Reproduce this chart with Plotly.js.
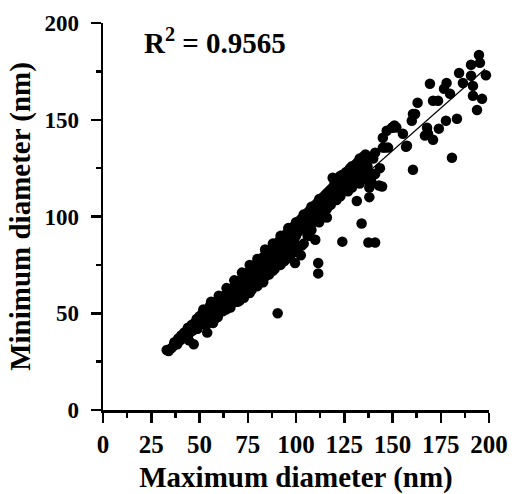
<!DOCTYPE html>
<html>
<head>
<meta charset="utf-8">
<script src="https://cdn.plot.ly/plotly-3.0.1.min.js"></script>
<style>html,body{margin:0;padding:0;background:#fff;}#chart{width:512px;height:494px;}</style>
</head>
<body>
<div id="chart"></div>
<script>
// Maximum diameter (nm) / Minimum diameter (nm), in groups along the band
const maxA = [33,34,35.5,36.5,37,38.5,39,40,40.5,41.5,42,43,43.5,44,45,45.5,46,47,46.5,44.5];
const minA = [31,30.5,32,33,35,34,37,36,38.5,37,40,38,41,42.5,40,43,44,34,41,36];

const maxB = [47.5,48,48.5,49,49.5,50,50.5,51,51.5,52,52,53,53,53.5,54,54.5,55,55,55.5,56,56.5,57,57,57.5,58,58.5,59,59,59.5,60,60,61,61.5,62];
const minB = [45,43,47,44,46,48.5,45,47,50,46,49,48,51,44,40,50,52,47,54,49,51,55,45,53,50,56,52,54,48,57,53,51.5,55,58];

const maxC = [62,62.5,63,63,63.5,64,64,64.5,65,65,65.5,66,66,66.5,67,67,67.5,68,68,68.5,69,69,69.5,70,70,70,70.5,71,71,71.5,72,72,72.5,73,73,73.5,74,74,74.5,75,75];
const minC = [54,56,59,52,57,60,55,58,61,56,59,62,54,60,63,57,61,64,59,62,65,58,63,66,61,56,64,67,62,65,68,60,66,69,63,67,70,64,61,71,66];

const maxD = [75.5,76,76,76.5,77,77,77.5,78,78,78,78.5,79,79,79.5,80,80,80.5,81,81,81.5,82,82,82,82.5,83,83,83.5,84,84,84.5,85,85,85.5,86,86,86.5,87,87,87.5,88,88,88.5,89,89,89.5,90,90,90.5];
const minD = [68,72,64,70,73,67,71,74,69,65,72,75,70,73,76,68,74,77,71,75,78,73,67,76,79,74,77,80,72,78,81,76,79,82,74,80,83,78,75,84,80,82,85,77,83,86,81,50];

const maxE = [90.5,91,91,91.5,92,92,92.5,93,93,93.5,94,94,94.5,95,95,95.5,96,96,96.5,97,97,97.5,98,98,98.5,99,99,99.5,99.5,100,100,100.5,101,101,101.5,102,102,102.5,103,103,103.5,104,104,104.5,105,105];
const minE = [84,87,79,85,88,82,86,89,84,80,90,86,88,91,83,89,92,87,90,93,85,91,94,89,92,95,87,76,93,96,90,94,97,92,95,98,93,80,99,95,97,100,94,98,101,96];

const maxF = [105.5,106,106,107,107,107.5,108,108,109,109,109.5,110,110,110,110.5,111,111.5,111.5,111.5,112,112,113,113,114,114,115,115,116,116,116.5,117,117,118,118,118,117.5,119,119,120,120,121,121,122,122,123,123,124,124,124,125,125];
const minF = [99,102,97,103,99,101,104,100,105,102,98,106,103,88,104,107,76,70.6,105,108,104,109,106,110,107,111,108,112,99.5,109,113,110,114,111,112.5,107,115,120,116,118,119,115,120,117,121,118,87,121.5,119,122,120];

const maxG = [126,126,127,127.5,128,128,129,129,130,130,131,131,131.5,132,132,133,133,134,134,135,135,136,136,137,137.5,138,138,138,139,139,140,141,141,141,143,143.5,144.6,145,145];
const minG = [121,123,122,124,121,125,123,126,122,124,125,127,108,124,128,126,130,96.4,125,131,127,129,132,126,86.6,110,115,123,118,120,130,86.6,122,133,116,125,115.5,135.6,140.7];

const maxH = [147,147.7,149.7,151,152,155.4,157,157.5,160,160.6,160.6,161.7,163,166.8,167.9,168.4,169.4,171,171,173.6,174,176.7,177.7,178,179.8,180.8,183.4,184.5,186.5,190.7,190.7,191.7,191.7,193.8,194.8,195.3,196.4,198.4,146,150];
const minH = [144.3,135.6,145.9,147,146,142.8,136,136.6,149.5,153,124.2,153,158.8,141.8,145.9,142.8,168.6,159.8,139.7,159.8,145.4,166,149.5,169,163.4,130.4,150.5,174.2,169,178.4,172.7,167.5,162.4,155,183.5,179.4,160.8,173,135.6,146];

// upper and lower edges of the dense band
const maxU = [52,56,60,64,68,72,76,80,84,88,92,96,100,104,108,112];
const minU = [52,56,59,63,67,71,75,78,83,86,90,94,97,101,105,109];
const maxL = [58,64,69,71,74,76,79,84,89,94,98,103,107,49,53,57,62,66,70,73,77,80,83,86,88,92,95,97,101,104,106,108,112,114];
const minL = [47,52,56,56.7,60,60.5,65,69,73,77,81,85,90,42,44,47,51,53,57,58,62,64,66,70,72,75,78,80,83,86,90,93,97,100];
const maxM = [108,110,113,116,118,120,121,122,123,124,126,127,128,129,130,132,133,134,136,137];
const minM = [96,98,101,104,106,110,108.5,112,110.5,114,116,113,117,115,118,119,117,120,121,119];

// linear fit (end points)
const fitX = [33, 198];
const fitY = [31, 176.2];
const r2Text = 'R<sup>2</sup> = 0.9565';

// tick labels
const xTickVals = [0,25,50,75,100,125,150,175,200];
const yTickVals = [0,50,100,150,200];

const maxDiameter = [].concat(maxA, maxB, maxC, maxD, maxE, maxF, maxG, maxH, maxU, maxL, maxM);
const minDiameter = [].concat(minA, minB, minC, minD, minE, minF, minG, minH, minU, minL, minM);

const serif = 'Liberation Serif, Times New Roman, serif';
const bold = v => '<b>' + v + '</b>';

const traces = [
  {x: maxDiameter, y: minDiameter, type: 'scatter', mode: 'markers',
   marker: {color: 'black', size: 10.5, line: {width: 0}}, cliponaxis: false},
  {x: fitX, y: fitY, type: 'scatter', mode: 'lines',
   line: {color: 'black', width: 1.2}}
];

const axisCommon = {
  range: [0, 200], showgrid: false, zeroline: false,
  showline: true, linecolor: 'black', linewidth: 2.5,
  ticks: 'outside', ticklen: 10, tickwidth: 2.5, tickcolor: 'black',
  tickmode: 'array',
  fixedrange: true
};

const layout = {
  width: 512, height: 494,
  margin: {l: 103, r: 23, t: 23, b: 84},
  paper_bgcolor: 'white', plot_bgcolor: 'white',
  showlegend: false,
  font: {family: serif, color: 'black'},
  xaxis: Object.assign({}, axisCommon, {
    tickvals: xTickVals, ticktext: xTickVals.map(bold),
    tickfont: {family: serif, size: 25, color: 'black'},
    minor: {ticks: 'outside', ticklen: 5, tickwidth: 2.5, tickcolor: 'black', tick0: 0, dtick: 12.5, showgrid: false},
    title: {text: bold('Maximum diameter (nm)'), font: {family: serif, size: 29, color: 'black'}, standoff: 17}
  }),
  yaxis: Object.assign({}, axisCommon, {
    tickvals: yTickVals, ticktext: yTickVals.map(bold), ticklabelstandoff: 7,
    tickfont: {family: serif, size: 23, color: 'black'},
    minor: {ticks: 'outside', ticklen: 5, tickwidth: 2.5, tickcolor: 'black', tick0: 0, dtick: 25, showgrid: false},
    title: {text: bold('Minimum diameter (nm)'), font: {family: serif, size: 29, color: 'black'}, standoff: 6}
  }),
  annotations: [{
    x: 58, y: 190.5, xref: 'x', yref: 'y', text: bold(r2Text),
    showarrow: false, font: {family: serif, size: 29, color: 'black'},
    xanchor: 'center', yanchor: 'middle'
  }]
};

Plotly.newPlot('chart', traces, layout, {displayModeBar: false, staticPlot: true});
</script>
</body>
</html>
